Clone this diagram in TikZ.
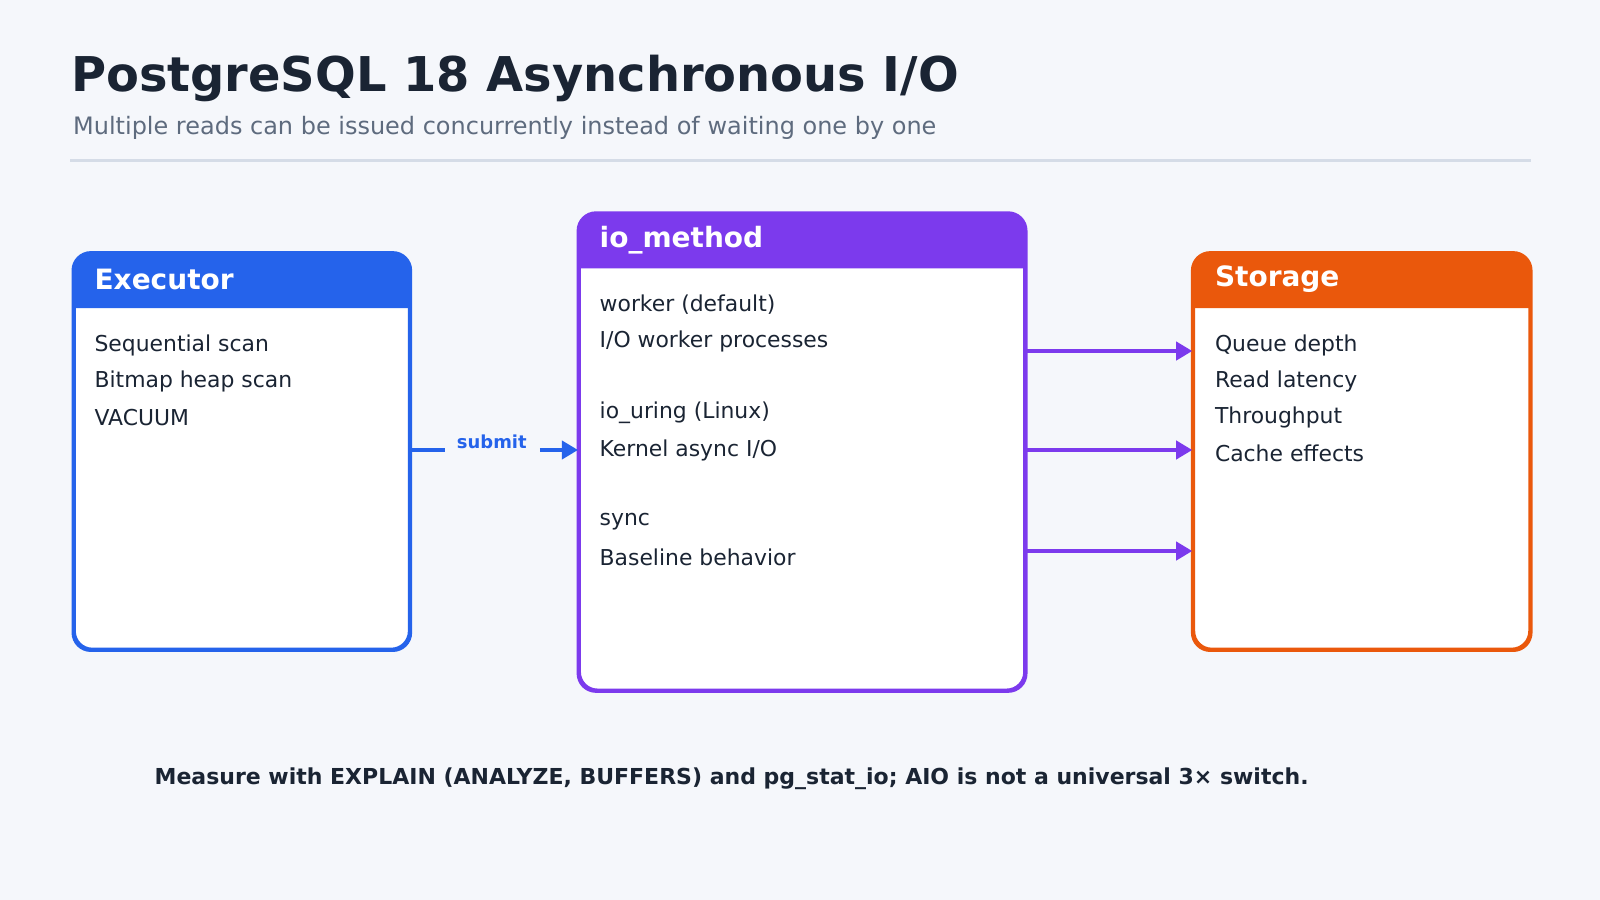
\documentclass[tikz,border=0pt]{standalone}
\usepackage{fontspec}
\setmainfont{DejaVu Sans}
\usetikzlibrary{arrows.meta,positioning}
\definecolor{bg}{HTML}{F5F7FB}
\definecolor{ink}{HTML}{1A2433}
\definecolor{muted}{HTML}{5E6B7E}
\definecolor{rulec}{HTML}{D5DCE7}
\definecolor{cblue}{HTML}{2563EB}
\definecolor{cviolet}{HTML}{7C3AED}
\definecolor{corange}{HTML}{EA580C}
\tikzset{
  panel/.style={draw=#1, line width=0.8pt, fill=white, rounded corners=5pt, inner sep=0pt},
  head/.style={font=\fontsize{7.8}{9}\selectfont\bfseries, text=white, anchor=west, inner sep=0pt},
  item/.style={font=\fontsize{6.1}{7}\selectfont, text=ink, anchor=west, inner sep=0pt},
  link/.style={draw=#1, line width=1.3pt, -{Triangle[length=4.5pt,width=5pt]}}
}
\newcommand{\panelhead}[3]{% node, colour, header bottom y
  \coordinate (hy) at (0,#3);
  \fill[#2, rounded corners=5pt] (#1.south west |- hy) -- (#1.north west) -- (#1.north east) [sharp corners] -- (#1.south east |- hy) -- cycle;
  \draw[#2, line width=0.8pt, rounded corners=5pt] (#1.south west) rectangle (#1.north east);
}

\begin{document}
\begin{tikzpicture}[x=0.01cm, y=-0.01cm]

	\fill[bg] (0,0) rectangle (1568,882);
	\useasboundingbox (0,0) rectangle (1568,882);

	\node[anchor=west, inner sep=0pt, font=\fontsize{13.35}{16}\selectfont\bfseries, text=ink] (title) at (69,77) {PostgreSQL 18 Asynchronous I/O};
	\node[anchor=west, inner sep=0pt, font=\fontsize{6.68}{8}\selectfont, text=muted] (subtitle) at (71,125) {Multiple reads can be issued concurrently instead of waiting one by one};
	\draw[rulec, line width=0.8pt] (69,157) -- (1500,157);

	% panels
	\node[panel=cblue, minimum width=3.28cm, minimum height=3.87cm, anchor=north west] (exec) at (71.5,247.5) {};
	\node[panel=cviolet, minimum width=4.36cm, minimum height=4.66cm, anchor=north west] (iom) at (566.5,208.5) {};
	\node[panel=corange, minimum width=3.29cm, minimum height=3.87cm, anchor=north west] (stor) at (1168.5,247.5) {};
	\panelhead{exec}{cblue}{302}
	\panelhead{iom}{cviolet}{263}
	\panelhead{stor}{corange}{302}

	\node[head] at (92,274) {Executor};
	\node[head] at (587,235) {io\_method};
	\node[head] at (1190,274) {Storage};

	\node[item] at (92,339) {Sequential scan};
	\node[item] at (92,374) {Bitmap heap scan};
	\node[item] at (92,409) {VACUUM};

	\node[item] at (587,299) {worker (default)};
	\node[item] at (587,335) {I/O worker processes};
	\node[item] at (587,405) {io\_uring (Linux)};
	\node[item] at (587,441) {Kernel async I/O};
	\node[item] at (587,511) {sync};
	\node[item] at (587,546) {Baseline behavior};

	\node[item] at (1190,339) {Queue depth};
	\node[item] at (1190,374) {Read latency};
	\node[item] at (1190,409) {Throughput};
	\node[item] at (1190,444) {Cache effects};

	% connectors
	\node[font=\fontsize{5}{6}\selectfont\bfseries, text=cblue, fill=bg, inner xsep=3pt] (submit) at (482,433) {submit};
	\coordinate (sy) at (0,441);
	\coordinate (sa) at (436,441);
	\coordinate (sb) at (529,441);
	\draw[cblue, line width=1.3pt] (exec.east |- sy) -- (sa);
	\draw[link=cblue] (sb) -- (iom.west |- sy);
	\foreach \y [count=\i] in {344,441,540} {
		\coordinate (ly\i) at (0,\y);
		\draw[link=cviolet] (iom.east |- ly\i) -- (stor.west |- ly\i);
	}

	\node[font=\fontsize{6.13}{7}\selectfont\bfseries, text=ink] (note) at (717,763) {Measure with EXPLAIN (ANALYZE, BUFFERS) and pg\_stat\_io; AIO is not a universal 3× switch.};

\end{tikzpicture}
\end{document}
